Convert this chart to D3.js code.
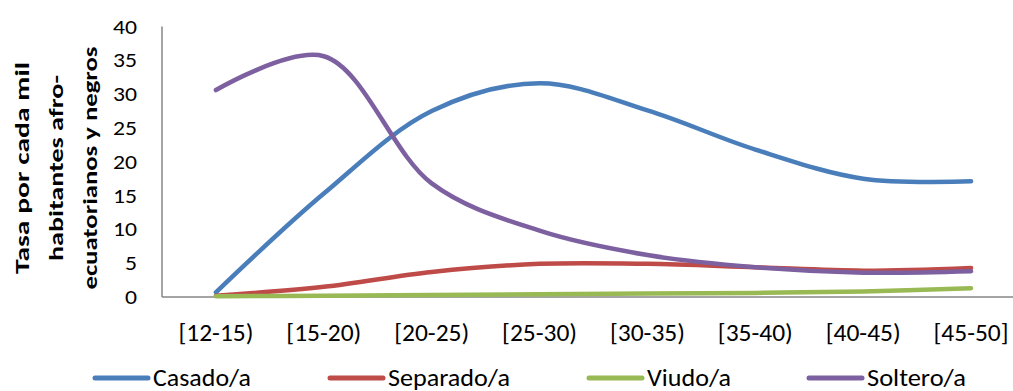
<!DOCTYPE html>
<html><head><meta charset="utf-8">
<script src="https://cdn.jsdelivr.net/npm/d3@7"></script>
<style>
html,body{margin:0;padding:0;background:#fff;overflow:hidden;}
svg{display:block;}
text{font-family:Carlito,"Liberation Sans Narrow","Open Sans",sans-serif;}
</style></head>
<body>
<svg id="chart" width="1013" height="391"></svg>
<script>
const categories = ["[12-15)","[15-20)","[20-25)","[25-30)","[30-35)","[35-40)","[40-45)","[45-50]"];
const casado   = [0.7, 15.3, 27.5, 31.6, 27.6, 21.8, 17.5, 17.1];
const separado = [0.2, 1.5, 3.7, 4.9, 4.9, 4.4, 3.9, 4.3];
const viudo    = [0.1, 0.2, 0.3, 0.4, 0.5, 0.6, 0.8, 1.3];
const soltero  = [30.6, 35.6, 16.8, 9.8, 6.2, 4.4, 3.6, 3.8];
const seriesNames = ["Casado/a","Separado/a","Viudo/a","Soltero/a"];
const seriesColors = ["#4A7EBB","#BE4B48","#98B954","#7D60A0"];
const yTicks = [0,5,10,15,20,25,30,35,40];
const yTitleLines = ["Tasa por cada mil","habitantes afro-","ecuatorianos y negros"];

const series = [casado, separado, viudo, soltero];
const svg = d3.select("#chart");
const x0 = 162, x1 = 1025, yTop = 26.5, yBot = 297;
const x = d3.scaleBand().domain(categories).range([x0, x1]);
const y = d3.scaleLinear().domain([0,40]).range([yBot, yTop]);

// axes lines
svg.append("line").attr("x1",x0).attr("x2",x0).attr("y1",y(40)).attr("y2",y(0))
  .attr("stroke","#868686").attr("stroke-width",1.5);
svg.append("line").attr("x1",x0).attr("x2",1013).attr("y1",y(0)).attr("y2",y(0))
  .attr("stroke","#868686").attr("stroke-width",1.5);

// y tick labels
svg.append("g").selectAll("text").data(yTicks).join("text")
  .attr("x",137).attr("y",d=>y(d)+7)
  .attr("text-anchor","end").attr("font-size",20).attr("fill","#000")
  .attr("textLength",d=>d>=10?24:12).attr("lengthAdjust","spacingAndGlyphs")
  .text(d=>d);

// x tick labels
svg.append("g").selectAll("text").data(categories).join("text")
  .attr("x",d=>x(d)+x.bandwidth()/2).attr("y",341)
  .attr("text-anchor","middle").attr("font-size",24).attr("fill","#000")
  .attr("textLength",75).attr("lengthAdjust","spacingAndGlyphs")
  .text(d=>d);

// y title
const titleLens = [212,186,243];
const tg = svg.append("g").attr("transform","translate(0,168) rotate(-90)");
tg.selectAll("text").data(yTitleLines).join("text")
  .attr("x",0).attr("y",(d,i)=>22+i*34).attr("dy","0.35em")
  .attr("text-anchor","middle").attr("font-size",20).attr("font-weight","bold")
  .attr("textLength",(d,i)=>titleLens[i]).attr("lengthAdjust","spacingAndGlyphs")
  .text(d=>d);

// lines
const line = d3.line()
  .x((d,i)=>x(categories[i])+x.bandwidth()/2)
  .y(d=>y(d))
  .curve(d3.curveCatmullRom.alpha(0.5));
svg.append("g").selectAll("path").data(series).join("path")
  .attr("d",d=>line(d)).attr("fill","none")
  .attr("stroke",(d,i)=>seriesColors[i]).attr("stroke-width",4.5)
  .attr("stroke-linecap","round").attr("stroke-linejoin","round");

// legend
const legX = [95, 330, 589, 809];
const legLens = [98,122,84,99];
const lg = svg.append("g").selectAll("g").data(seriesNames).join("g")
  .attr("transform",(d,i)=>`translate(${legX[i]},378)`);
lg.append("line").attr("x1",0).attr("x2",53).attr("y1",0).attr("y2",0)
  .attr("stroke",(d,i)=>seriesColors[i]).attr("stroke-width",5).attr("stroke-linecap","round");
lg.append("text").attr("x",58).attr("y",8)
  .attr("font-size",24)
  .attr("textLength",(d,i)=>legLens[i]).attr("lengthAdjust","spacingAndGlyphs")
  .text(d=>d);
</script>
</body></html>
